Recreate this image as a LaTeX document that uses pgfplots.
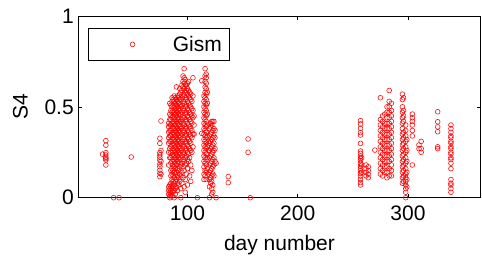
\documentclass[border=0pt]{standalone}
\usepackage{fontspec}
\setmainfont{Liberation Sans}
\usepackage{pgfplots}
\pgfplotsset{compat=1.18}
\newcommand{\fs}{\fontsize{21}{25}\selectfont}
\begin{document}
\begin{tikzpicture}
\begin{axis}[name=ax,
  scale only axis, width=402.4pt, height=181.7pt,
  xmin=1, xmax=366, ymin=0, ymax=1,
  xtick={100,200,300}, ytick={0,0.5,1},
  tick align=inside, major tick length=4pt,
  axis line style={line width=0.6pt},
  tick style={black, line width=0.6pt},
  /pgf/number format/assume math mode=true,
  ticklabel style={font=\fs},
  xticklabel style={yshift=-4.5pt},
  yticklabel style={xshift=-1pt},
  xlabel={day number}, ylabel={S4},
  label style={font=\fs},
  xlabel style={at={(axis description cs:0.5,-0.262)}, anchor=center},
  ylabel style={at={(axis description cs:-0.144,0.5)}, anchor=center, rotate=0},
  clip=false,
  legend style={at={(0.024,0.9356)}, anchor=north west, draw=black, line width=0.6pt,
    inner xsep=5pt, inner ysep=6pt, font=\fs, nodes={inner sep=2pt}},
  legend image code/.code={\path (0pt,0pt) (77pt,0pt); \draw[/tikz/only marks] plot coordinates {(39pt,0pt)};},
]
\addplot[only marks, mark=o, red, mark size=2.4pt, mark options={line width=0.55pt}] coordinates {
(23,0.24)
(26,0.18)(26,0.207)(26,0.222)(26,0.235)(26,0.248)(26,0.289)(26,0.314)(26,0.215)
(33,0)(38,0)
(49,0.224)
(75,0.116)(75,0.134)(75,0.152)(75,0.171)(75,0.185)(75,0.207)(75,0.222)(75,0.235)(75,0.248)(75,0.299)(75,0.327)(76,0.422)(76,0.13)(76,0.2)(76,0.26)
(83,0.02)(83,0.04)(83,0.06)(83,0.18)(83,0.25)(83,0.30)(83,0.33)(83,0.36)(83,0.39)(83,0.41)
(84,0)(84,0.01)(84,0.03)(84,0.05)(84,0.07)(84,0.22)(84,0.27)(84,0.31)(84,0.34)(84,0.37)(84,0.40)(84,0.43)(84,0.46)(84,0.52)
(85,0.02)(85,0.04)(85,0.06)(85,0.08)(85,0.12)(85,0.15)(85,0.19)(85,0.22)(85,0.25)(85,0.28)(85,0.31)(85,0.34)(85,0.37)(85,0.40)(85,0.43)(85,0.45)(85,0.48)(85,0.51)
(86,0.01)(86,0.03)(86,0.05)(86,0.07)(86,0.10)(86,0.13)(86,0.16)(86,0.20)(86,0.23)(86,0.26)(86,0.29)(86,0.32)(86,0.35)(86,0.38)(86,0.41)(86,0.44)(86,0.47)(86,0.50)(86,0.53)(86,0.55)
(87,0.03)(87,0.06)(87,0.09)(87,0.12)(87,0.15)(87,0.18)(87,0.21)(87,0.24)(87,0.27)(87,0.30)(87,0.33)(87,0.36)(87,0.39)(87,0.42)(87,0.45)(87,0.48)(87,0.51)(87,0.54)
(88,0.00)(88,0.04)(88,0.08)(88,0.11)(88,0.14)(88,0.17)(88,0.20)(88,0.23)(88,0.26)(88,0.29)(88,0.32)(88,0.35)(88,0.38)(88,0.41)(88,0.44)(88,0.47)(88,0.50)(88,0.53)(88,0.56)
(89,0.02)(89,0.05)(89,0.09)(89,0.13)(89,0.16)(89,0.19)(89,0.22)(89,0.25)(89,0.28)(89,0.31)(89,0.34)(89,0.37)(89,0.40)(89,0.43)(89,0.46)(89,0.49)(89,0.52)(89,0.55)
(90,0.06)(90,0.10)(90,0.14)(90,0.18)(90,0.21)(90,0.24)(90,0.27)(90,0.30)(90,0.33)(90,0.36)(90,0.39)(90,0.42)(90,0.45)(90,0.48)(90,0.51)(90,0.54)(90,0.61)
(91,0.04)(91,0.08)(91,0.12)(91,0.16)(91,0.20)(91,0.23)(91,0.26)(91,0.29)(91,0.32)(91,0.35)(91,0.38)(91,0.41)(91,0.44)(91,0.47)(91,0.50)(91,0.53)(91,0.56)
(92,0.07)(92,0.11)(92,0.15)(92,0.19)(92,0.22)(92,0.25)(92,0.28)(92,0.31)(92,0.34)(92,0.37)(92,0.40)(92,0.43)(92,0.46)(92,0.49)(92,0.52)(92,0.55)
(93,0.09)(93,0.13)(93,0.17)(93,0.21)(93,0.24)(93,0.27)(93,0.30)(93,0.33)(93,0.36)(93,0.39)(93,0.42)(93,0.45)(93,0.48)(93,0.51)(93,0.54)(93,0.57)(93,0.60)
(94,0.00)(94,0.05)(94,0.12)(94,0.18)(94,0.22)(94,0.26)(94,0.30)(94,0.34)(94,0.38)(94,0.42)(94,0.46)(94,0.50)(94,0.54)(94,0.58)
(95,0.08)(95,0.14)(95,0.19)(95,0.23)(95,0.27)(95,0.31)(95,0.35)(95,0.39)(95,0.43)(95,0.47)(95,0.51)(95,0.55)(95,0.59)(95,0.62)
(96,0.11)(96,0.17)(96,0.21)(96,0.25)(96,0.29)(96,0.33)(96,0.37)(96,0.41)(96,0.45)(96,0.49)(96,0.53)(96,0.57)(96,0.61)(96,0.64)(96,0.67)
(97,0.06)(97,0.15)(97,0.20)(97,0.24)(97,0.28)(97,0.32)(97,0.36)(97,0.40)(97,0.44)(97,0.48)(97,0.52)(97,0.56)(97,0.60)(97,0.63)(97,0.66)(97,0.71)
(98,0.03)(98,0.10)(98,0.18)(98,0.22)(98,0.26)(98,0.30)(98,0.34)(98,0.38)(98,0.42)(98,0.46)(98,0.50)(98,0.54)(98,0.58)(98,0.62)(98,0.65)
(99,0.13)(99,0.19)(99,0.23)(99,0.27)(99,0.31)(99,0.35)(99,0.39)(99,0.43)(99,0.47)(99,0.51)(99,0.55)(99,0.59)(99,0.62)
(100,0.07)(100,0.16)(100,0.21)(100,0.25)(100,0.29)(100,0.33)(100,0.37)(100,0.41)(100,0.45)(100,0.49)(100,0.53)(100,0.57)(100,0.60)(100,0.63)
(101,0.20)(101,0.24)(101,0.28)(101,0.32)(101,0.36)(101,0.40)(101,0.44)(101,0.48)(101,0.52)(101,0.56)(101,0.59)(101,0.64)
(102,0.12)(102,0.22)(102,0.27)(102,0.31)(102,0.35)(102,0.39)(102,0.43)(102,0.47)(102,0.51)(102,0.55)(102,0.58)
(103,0.09)(103,0.18)(103,0.26)(103,0.30)(103,0.34)(103,0.38)(103,0.42)(103,0.46)(103,0.50)(103,0.54)(103,0.57)
(104,0.15)(104,0.25)(104,0.33)(104,0.37)(104,0.41)(104,0.45)(104,0.49)(104,0.53)
(105,0.28)(105,0.35)(105,0.44)(105,0.48)(105,0.56)(105,0.66)
(106,0.40)(106,0.45)(106,0.35)
(109,0)
(113,0.644)(113,0.354)
(115,0.10)(115,0.13)(115,0.17)(115,0.20)(115,0.23)(115,0.26)(115,0.29)(115,0.32)(115,0.35)(115,0.38)(115,0.41)(115,0.44)(115,0.47)(115,0.50)(115,0.53)(115,0.56)
(116,0.12)(116,0.15)(116,0.19)(116,0.22)(116,0.25)(116,0.28)(116,0.31)(116,0.34)(116,0.37)(116,0.40)(116,0.43)(116,0.46)(116,0.49)(116,0.52)(116,0.55)(116,0.58)(116,0.61)(116,0.64)(116,0.67)(116,0.71)
(117,0.10)(117,0.14)(117,0.18)(117,0.21)(117,0.24)(117,0.27)(117,0.30)(117,0.33)(117,0.36)(117,0.39)(117,0.42)(117,0.45)(117,0.48)(117,0.51)(117,0.54)(117,0.57)(117,0.60)(117,0.63)(117,0.66)(117,0.68)
(118,0.16)(118,0.22)(118,0.28)(118,0.34)(118,0.40)(118,0.46)(118,0.52)(118,0.58)
(119,0.13)(119,0.26)(119,0.31)
(120,0)(120,0.06)(120,0.10)(120,0.14)(120,0.18)(120,0.22)(120,0.26)(120,0.30)(120,0.34)(120,0.38)
(121,0.08)(121,0.11)(121,0.15)(121,0.19)(121,0.23)(121,0.27)(121,0.31)(121,0.35)(121,0.39)(121,0.41)
(122,0.02)(122,0.05)(122,0.09)(122,0.12)(122,0.16)(122,0.20)(122,0.24)(122,0.28)(122,0.32)(122,0.36)(122,0.40)(122,0.42)
(123,0.03)(123,0.07)(123,0.13)(123,0.17)(123,0.21)(123,0.25)(123,0.29)(123,0.33)(123,0.37)(123,0.42)
(124,0.12)(124,0.18)(124,0.22)(124,0.26)(124,0.30)(124,0.34)(124,0.38)(124,0.42)
(125,0.20)(125,0.27)(125,0.33)(125,0.37)
(126,0)(126,0.19)
(137,0.083)(137,0.116)
(155,0.25)(155,0.323)
(157,0)
(257,0.424)(257,0.406)(257,0.382)(257,0.358)(257,0.345)(257,0.299)(257,0.257)(257,0.244)(257,0.229)(257,0.216)(257,0.204)(257,0.189)(257,0.174)(257,0.161)(257,0.149)(257,0.134)(257,0.119)(257,0.101)(257,0.083)(257,0.07)
(258,0.14)(258,0.18)(258,0.22)
(262,0.12)(262,0.14)(262,0.16)(262,0.18)
(264,0.11)(264,0.13)(264,0.15)(264,0.17)
(270,0.262)
(275,0.55)(275,0.43)(275,0.40)(275,0.37)(275,0.34)(275,0.31)(275,0.28)(275,0.25)(275,0.22)(275,0.19)(275,0.16)(275,0.13)
(277,0.45)(277,0.42)(277,0.39)(277,0.36)(277,0.33)(277,0.30)(277,0.27)(277,0.24)(277,0.21)(277,0.18)(277,0.15)(277,0.12)
(279,0.46)(279,0.41)(279,0.38)(279,0.35)(279,0.32)(279,0.29)(279,0.26)(279,0.23)(279,0.20)(279,0.17)(279,0.14)
(281,0.50)(281,0.47)(281,0.44)(281,0.41)(281,0.38)(281,0.35)(281,0.32)(281,0.29)(281,0.26)(281,0.23)(281,0.20)(281,0.17)(281,0.14)(281,0.11)
(283,0.59)(283,0.53)(283,0.50)(283,0.47)(283,0.44)(283,0.41)(283,0.38)(283,0.35)(283,0.32)(283,0.29)(283,0.26)(283,0.23)(283,0.20)(283,0.16)(283,0.12)
(285,0.52)(285,0.48)(285,0.45)(285,0.42)(285,0.39)(285,0.36)(285,0.33)(285,0.30)(285,0.27)(285,0.24)(285,0.21)(285,0.18)(285,0.15)(285,0.12)
(295,0.57)(295,0.54)(295,0.50)(295,0.47)(295,0.44)(295,0.41)(295,0.38)(295,0.35)(295,0.32)(295,0.29)(295,0.26)(295,0.23)(295,0.20)(295,0.17)(295,0.14)(295,0.11)(295,0.08)
(296,0.55)(296,0.48)(296,0.45)(296,0.42)(296,0.36)(296,0.33)(296,0.30)(296,0.27)(296,0.24)(296,0.21)(296,0.18)(296,0.15)(296,0.12)(296,0.09)
(298,0)(298,0.03)(298,0.05)(298,0.07)(298,0.09)(298,0.11)(298,0.13)(298,0.16)(298,0.19)(298,0.22)(298,0.25)(298,0.28)(298,0.31)(298,0.34)(298,0.37)(298,0.40)
(299,0.06)(299,0.10)(299,0.14)(299,0.20)(299,0.26)(299,0.32)
(304,0.46)(304,0.44)(304,0.42)(304,0.40)(304,0.37)(304,0.34)(304,0.18)
(310,0.27)(310,0.29)
(312,0.31)(312,0.25)(312,0.27)
(327,0.473)(327,0.418)(327,0.39)(327,0.363)(327,0.28)(327,0.27)
(339,0.40)(339,0.38)(339,0.36)(339,0.34)(339,0.33)(339,0.31)(339,0.30)(339,0.28)(339,0.27)(339,0.25)(339,0.24)(339,0.22)(339,0.21)(339,0.19)(339,0.16)(339,0.10)(339,0.08)(339,0.07)(339,0.05)(339,0.03)
};
\addlegendentry{Gism}
\end{axis}
\pgfresetboundingbox
\path[use as bounding box] ([shift={(-78.3pt,-65.3pt)}]ax.south west) rectangle ([shift={(1.3pt,16pt)}]ax.north east);
\end{tikzpicture}
\end{document}
